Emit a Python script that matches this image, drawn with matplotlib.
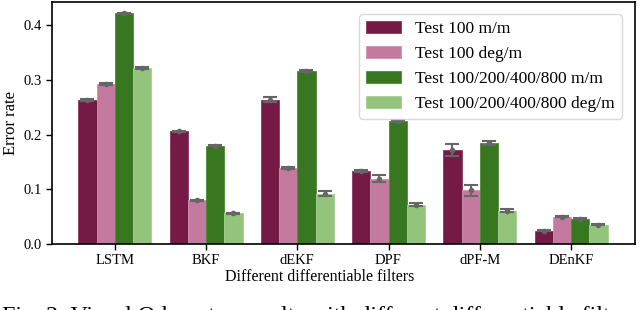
import numpy as np
import matplotlib.pyplot as plt

plt.rcParams['font.family'] = ['Liberation Serif', 'DejaVu Serif']

filters = ['LSTM', 'BKF', 'dEKF', 'DPF', 'dPF-M', 'DEnKF']
labels = ['Test 100 m/m', 'Test 100 deg/m',
          'Test 100/200/400/800 m/m', 'Test 100/200/400/800 deg/m']

m100 = [0.263, 0.206, 0.264, 0.134, 0.172, 0.024]
deg100 = [0.293, 0.080, 0.139, 0.119, 0.098, 0.050]
m_all = [0.422, 0.180, 0.316, 0.225, 0.185, 0.046]
deg_all = [0.322, 0.056, 0.092, 0.072, 0.061, 0.035]

m100_err = [0.002, 0.001, 0.0045, 0.002, 0.011, 0.001]
deg100_err = [0.002, 0.001, 0.002, 0.0065, 0.0095, 0.001]
m_all_err = [0.001, 0.001, 0.002, 0.001, 0.003, 0.001]
deg_all_err = [0.001, 0.001, 0.0045, 0.003, 0.003, 0.001]

colors = ['#751a45', '#c4799f', '#37771f', '#93c47c']
edges = ['#8a3a5e', '#d08fb0', '#4e8a36', '#a6d090']

series = [m100, deg100, m_all, deg_all]
errs = [m100_err, deg100_err, m_all_err, deg_all_err]

fig = plt.figure(figsize=(6.4, 3.1), dpi=100)
ax = fig.add_axes([0.081, 0.213, 0.911, 0.781])

x = np.arange(len(filters))
w = 0.2
for i, (vals, err) in enumerate(zip(series, errs)):
    pos = x + (i - 1.5) * w
    ax.bar(pos, vals, w, color=colors[i], edgecolor=edges[i], linewidth=0.6,
           label=labels[i])
    ax.errorbar(pos, vals, yerr=err, fmt='o', color='#666666', ms=3,
                elinewidth=1.5, capsize=5, capthick=1.5)

ax.set_xlim(-0.69, 5.70)
ax.set_ylim(0, 0.443)
ax.set_xticks(x)
ax.set_xticklabels(filters, fontsize=10.5)
ax.set_yticks([0.0, 0.1, 0.2, 0.3, 0.4])
ax.set_yticklabels(['0.0', '0.1', '0.2', '0.3', '0.4'], fontsize=10.5)
ax.tick_params(length=4, width=1)
for s in ax.spines.values():
    s.set_linewidth(1.2)
ax.set_xlabel('Different differentiable filters', fontsize=11.5, labelpad=0)
ax.xaxis.set_label_coords(0.46, -0.105)
ax.set_ylabel('Error rate', fontsize=12, labelpad=3)

ax.legend(loc='upper right', fontsize=12.5, frameon=True, edgecolor='#d0d0d0',
          fancybox=True, borderpad=0.4, bbox_to_anchor=(0.992, 0.985))

# caption sits at the bottom edge and is cut off, as in the source figure
fig.text(0.003, -0.04, 'Fig. 2: Visual Odometry results with different differentiable filters:',
         fontsize=17.3, va='baseline', ha='left')

fig.savefig('out.png', dpi=100)
